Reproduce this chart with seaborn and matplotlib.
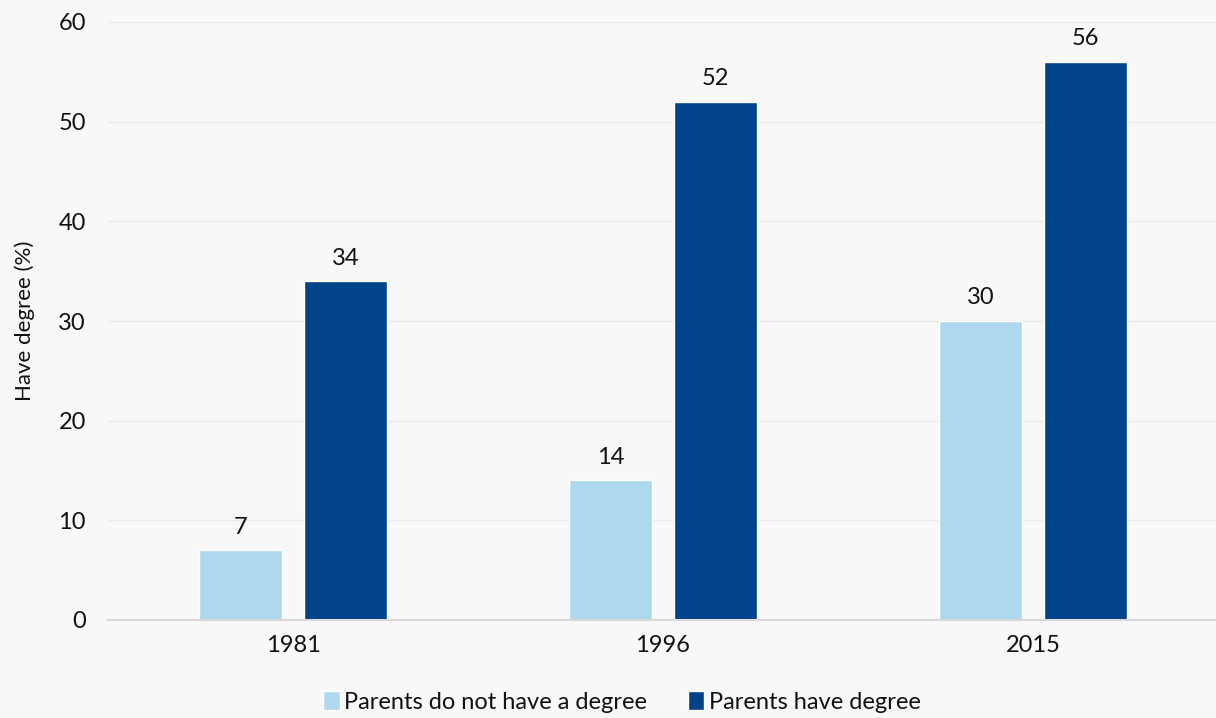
import matplotlib
matplotlib.use("Agg")
import matplotlib.pyplot as plt
import seaborn as sns
import pandas as pd

years = ["1981", "1996", "2015"]
no_degree = [7, 14, 30]
has_degree = [34, 52, 56]
series_names = ["Parents do not have a degree", "Parents have degree"]
colors = ["#add8ee", "#00438a"]

df = pd.DataFrame({
    "year": years * 2,
    "value": no_degree + has_degree,
    "series": [series_names[0]] * 3 + [series_names[1]] * 3,
})

sns.set_theme(style="white")
plt.rcParams['font.family'] = ['Lato', 'DejaVu Sans']

fig = plt.figure(figsize=(12.16, 7.18), dpi=100, facecolor="#f8f8f8")
ax = fig.add_axes([108 / 1216, 1 - 620 / 718, 1110 / 1216, 598 / 718])
ax.set_facecolor("#f8f8f8")

sns.barplot(data=df, x="year", y="value", hue="series", order=years,
            hue_order=series_names, palette=colors, width=0.568, gap=0.211,
            saturation=1, ax=ax, legend=True)

for cont in ax.containers:
    ax.bar_label(cont, fmt="%d", padding=9, fontsize=17, color="#111111")

ax.set_ylim(0, 60)
ax.set_xlim(-0.5, 2.5)
ax.set_yticks(range(0, 61, 10))
ax.yaxis.grid(True, color="#ebebeb", linewidth=1)
ax.set_axisbelow(True)
for s in ["top", "right", "left"]:
    ax.spines[s].set_visible(False)
ax.spines["bottom"].set_color("#d9d9d9")
ax.spines["bottom"].set_linewidth(1.5)
ax.tick_params(axis="both", length=0, labelsize=17, colors="#111111")
ax.tick_params(axis="y", pad=16)
ax.tick_params(axis="x", pad=11)
ax.set_xlabel("")
ax.set_ylabel("Have degree (%)", fontsize=16, color="#111111", labelpad=17)

ax.legend(loc="upper center", bbox_to_anchor=(0.463, -0.083), ncol=2, frameon=False,
          fontsize=17, handlelength=0.7, handleheight=0.9, handletextpad=0.2,
          columnspacing=1.7, labelcolor="#111111")

fig.savefig("out.png", dpi=100, facecolor=fig.get_facecolor())
